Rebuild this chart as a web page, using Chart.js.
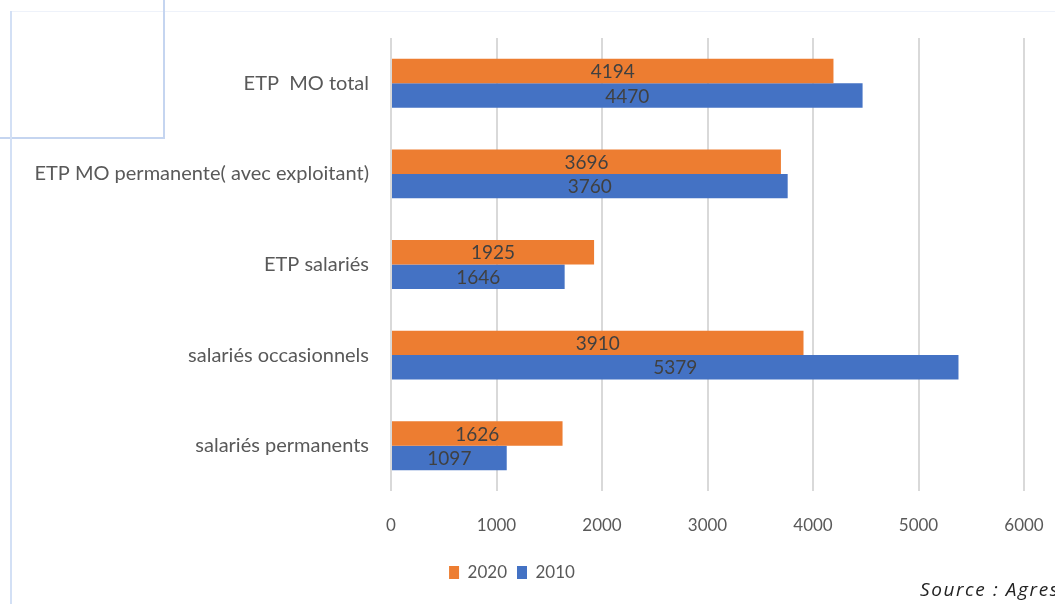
<!DOCTYPE html>
<html>
<head>
<meta charset="utf-8">
<script src="https://cdn.jsdelivr.net/npm/chart.js@4/dist/chart.umd.min.js"></script>
<style>
  html,body{margin:0;padding:0;background:#fff;}
  #wrap{position:relative;width:1055px;height:604px;overflow:hidden;}
  canvas{position:absolute;left:0;top:0;}
  .deco{position:absolute;background:#c5d5f0;}
  #src{position:absolute;left:920px;top:576px;font-family:"Open Sans",Lato,sans-serif;font-style:italic;font-size:19px;letter-spacing:1.6px;color:#222;white-space:nowrap;}
</style>
</head>
<body>
<div id="wrap">
  <div class="deco" style="left:10px;top:11px;width:1045px;height:1px;background:#eef2fa;"></div>
  <div class="deco" style="left:163px;top:0;width:2px;height:139px;"></div>
  <div class="deco" style="left:0;top:137px;width:165px;height:2px;"></div>
  <div class="deco" style="left:10px;top:11px;width:2px;height:593px;background:#d3e0f5;"></div>
  <canvas id="c" width="1055" height="604"></canvas>
  <div id="src">Source : Agreste</div>
</div>
<script>
const categories = ["ETP  MO total", "ETP MO permanente( avec exploitant)", "ETP salariés", "salariés occasionnels", "salariés permanents"];
const values2020 = [4194, 3696, 1925, 3910, 1626];
const values2010 = [4470, 3760, 1646, 5379, 1097];
const seriesLabels = ["2020", "2010"];
const xTicks = [0, 1000, 2000, 3000, 4000, 5000, 6000];

const FONT = 'Lato, "Open Sans", sans-serif';

const barLabels = {
  id: 'barLabels',
  afterDatasetsDraw(chart) {
    const ctx = chart.ctx;
    ctx.save();
    ctx.font = '19px ' + FONT;
    ctx.fillStyle = '#404040';
    ctx.textAlign = 'center';
    ctx.textBaseline = 'middle';
    chart.data.datasets.forEach((ds, i) => {
      const meta = chart.getDatasetMeta(i);
      meta.data.forEach((el, j) => {
        const x = (el.x + el.base) / 2;
        ctx.fillText(String(ds.data[j]), x, el.y + 1);
      });
    });
    ctx.restore();
  }
};

new Chart(document.getElementById('c'), {
  type: 'bar',
  data: {
    labels: categories,
    datasets: [
      { label: seriesLabels[0], data: values2020, backgroundColor: '#ED7D31' },
      { label: seriesLabels[1], data: values2010, backgroundColor: '#4472C4' }
    ]
  },
  options: {
    indexAxis: 'y',
    responsive: false,
    animation: false,
    devicePixelRatio: 1,
    layout: { padding: { top: 38, right: 31, bottom: 13, left: 0 } },
    datasets: { bar: { categoryPercentage: 0.54, barPercentage: 1.0 } },
    scales: {
      x: {
        min: 0, max: 6000,
        afterBuildTicks(scale) { scale.ticks = xTicks.map(v => ({ value: v })); },
        afterFit(scale) { scale.height = 63; scale.paddingRight = 0; scale.paddingLeft = 0; },
        grid: { color: '#d9d9d9', lineWidth: 2, drawTicks: false },
        border: { display: false },
        ticks: { color: '#595959', font: { family: FONT, size: 17 }, padding: 24, callback: v => String(v) }
      },
      y: {
        afterFit(scale) { scale.width = 391; },
        grid: { display: false, drawTicks: false },
        border: { display: false },
        ticks: { color: '#595959', font: { family: FONT, size: 20 }, padding: 22 }
      }
    },
    plugins: {
      legend: {
        position: 'bottom',
        labels: { color: '#595959', font: { family: FONT, size: 17 }, boxWidth: 10, boxHeight: 13, padding: 10 }
      },
      tooltip: { enabled: false }
    }
  },
  plugins: [barLabels]
});
</script>
</body>
</html>
